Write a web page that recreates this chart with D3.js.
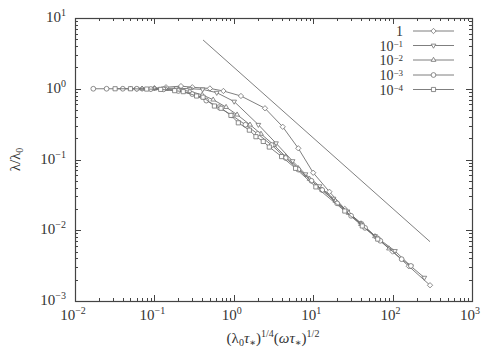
<!DOCTYPE html>
<html>
<head>
<meta charset="utf-8">
<script src="https://cdn.jsdelivr.net/npm/d3@7"></script>
<style>
body { margin: 0; background: #fff; }
text { font-family: "Liberation Serif", "DejaVu Serif", serif; fill: #333; }
</style>
</head>
<body>
<div id="chart"></div>
<script>
// series data
var x1 = [0.07, 0.1, 0.14, 0.216, 0.3, 0.5, 0.74, 1.23, 2.47, 4.13, 6.49, 10, 16, 25, 40, 65, 100, 160, 296];
var y1 = [1.0, 1.02, 1.05, 1.09, 1.05, 1.01, 0.93, 0.79, 0.53, 0.29, 0.144, 0.065, 0.035, 0.02, 0.0125, 0.0077, 0.005, 0.0031, 0.00167];

var x2 = [0.06, 0.09, 0.13, 0.19, 0.28, 0.405, 0.61, 1.01, 2.04, 3.4, 5.5, 8, 12, 18, 27, 40, 60, 107, 170, 251];
var y2 = [1.0, 1.0, 1.01, 1.02, 1.0, 0.98, 0.88, 0.66, 0.31, 0.17, 0.095, 0.062, 0.042, 0.028, 0.0185, 0.0125, 0.0083, 0.0051, 0.0031, 0.00214];

var x3 = [0.05, 0.07, 0.1, 0.14, 0.2, 0.28, 0.4, 0.55, 0.8, 1.1, 1.6, 2.2, 3.2, 4.5, 6.5, 9, 13, 19, 28, 40, 60, 90];
var y3 = [1.0, 1.0, 1.0, 0.99, 0.97, 0.92, 0.82, 0.7, 0.55, 0.43, 0.31, 0.23, 0.16, 0.11, 0.075, 0.053, 0.037, 0.026, 0.0175, 0.0122, 0.0082, 0.0055];

var x4 = [0.017, 0.025, 0.04, 0.06, 0.09, 0.13, 0.2, 0.3, 0.45, 0.65, 0.95, 1.4, 2.0, 3.0, 4.5, 6.5, 9.5, 13, 20, 30, 45, 70, 130, 170];
var y4 = [1.0, 1.0, 1.0, 1.0, 0.99, 0.98, 0.93, 0.84, 0.68, 0.55, 0.42, 0.31, 0.23, 0.16, 0.105, 0.072, 0.05, 0.037, 0.024, 0.016, 0.0108, 0.0071, 0.0039, 0.00313];

var x5 = [0.032, 0.05, 0.08, 0.12, 0.18, 0.231, 0.34, 0.41, 0.57, 0.69, 0.92, 1.14, 1.57, 1.9, 2.35, 2.8, 4, 6, 10.8, 25, 41.5, 65];
var y5 = [1.0, 1.0, 0.99, 0.98, 0.94, 0.91, 0.79, 0.76, 0.57, 0.53, 0.42, 0.33, 0.26, 0.21, 0.18, 0.15, 0.11, 0.075, 0.041, 0.0187, 0.0115, 0.0075];

// guide line lambda ~ 2/x
var refX = [0.41, 296];
var refY = [4.89, 0.00689];

var names = ["1", "10|-1", "10|-2", "10|-3", "10|-4"];
var xTicks = [-2, -1, 0, 1, 2, 3];
var yTicks = [-3, -2, -1, 0, 1];

var width = 500, height = 350;
var padL = 75, padR = 472, padT = 18, padB = 301;

var svg = d3.select("#chart").append("svg")
  .attr("width", width)
  .attr("height", height);

var x = d3.scaleLog().domain([1e-2, 1e3]).range([padL, padR]);
var y = d3.scaleLog().domain([1e-3, 1e1]).range([padB, padT]);

var lineColor = "#707070";
var axisColor = "#444";

// ticks on all four sides, pointing inward
function minorTicks(lo, hi) {
  var out = [];
  for (var e = lo; e < hi; e++) {
    for (var k = 1; k < 10; k++) out.push({v: k * Math.pow(10, e), major: k == 1});
  }
  out.push({v: Math.pow(10, hi), major: true});
  return out;
}
var xt = minorTicks(-2, 3), yt = minorTicks(-3, 1);
var tk = svg.append("g").attr("stroke", axisColor).attr("stroke-width", 1);
xt.forEach(function(t) {
  var px = Math.round(x(t.v)) + 0.5, len = t.major ? 6 : 3;
  tk.append("line").attr("x1", px).attr("x2", px).attr("y1", padB).attr("y2", padB - len);
  tk.append("line").attr("x1", px).attr("x2", px).attr("y1", padT).attr("y2", padT + len);
});
yt.forEach(function(t) {
  var py = Math.round(y(t.v)) + 0.5, len = t.major ? 6 : 3;
  tk.append("line").attr("x1", padL).attr("x2", padL + len).attr("y1", py).attr("y2", py);
  tk.append("line").attr("x1", padR).attr("x2", padR - len).attr("y1", py).attr("y2", py);
});

svg.append("rect")
  .attr("x", padL + 0.5).attr("y", padT + 0.5)
  .attr("width", padR - padL).attr("height", padB - padT)
  .attr("fill", "none").attr("stroke", axisColor).attr("stroke-width", 1.2);

// power-of-ten label with superscript
function powLabel(sel, base, exp, up, fs) {
  sel.append("tspan").text(base);
  if (exp !== null) sel.append("tspan").attr("dy", -(up || 6)).attr("font-size", fs || 10).text(exp);
}

xTicks.forEach(function(e) {
  var t = svg.append("text")
    .attr("x", x(Math.pow(10, e)) - 2).attr("y", 320)
    .attr("text-anchor", "middle").attr("font-size", 15);
  powLabel(t, "10", e < 0 ? "\u2212" + (-e) : "" + e);
});
yTicks.forEach(function(e) {
  var t = svg.append("text")
    .attr("x", 66).attr("y", y(Math.pow(10, e)) + 4)
    .attr("text-anchor", "end").attr("font-size", 15);
  powLabel(t, "10", e < 0 ? "\u2212" + (-e) : "" + e);
});

// axis titles
var xl = svg.append("text")
  .attr("x", 273).attr("y", 343)
  .attr("text-anchor", "middle").attr("font-size", 15);
xl.append("tspan").text("(\u03bb");
xl.append("tspan").attr("font-size", 10).attr("dy", 3).text("0");
xl.append("tspan").attr("dy", -3).attr("font-style", "italic").text("\u03c4");
xl.append("tspan").attr("font-size", 10).attr("dy", 3).text("\u2217");
xl.append("tspan").attr("dy", -3).text(")");
xl.append("tspan").attr("font-size", 10).attr("dy", -6).text("1/4");
xl.append("tspan").attr("dy", 6).text("(");
xl.append("tspan").attr("font-style", "italic").text("\u03c9\u03c4");
xl.append("tspan").attr("font-size", 10).attr("dy", 3).text("\u2217");
xl.append("tspan").attr("dy", -3).text(")");
xl.append("tspan").attr("font-size", 10).attr("dy", -6).text("1/2");

var yl = svg.append("text")
  .attr("transform", "translate(20," + ((padT + padB) / 2) + ") rotate(-90)")
  .attr("text-anchor", "middle").attr("font-size", 15);
yl.append("tspan").text("\u03bb/\u03bb");
yl.append("tspan").attr("font-size", 10).attr("dy", 3).text("0");

// markers
var sym = [
  d3.symbol().type(d3.symbolDiamond2).size(18),
  d3.symbol().type(d3.symbolTriangle2).size(16),
  d3.symbol().type(d3.symbolTriangle2).size(16),
  d3.symbol().type(d3.symbolCircle).size(18),
  d3.symbol().type(d3.symbolSquare2).size(22)
];
var rot = [0, 180, 0, 0, 0];

var allX = [x1, x2, x3, x4, x5], allY = [y1, y2, y3, y4, y5];
var line = d3.line().x(function(d) { return x(d[0]); }).y(function(d) { return y(d[1]); });

var plot = svg.append("g");
plot.append("path")
  .attr("d", line(d3.zip(refX, refY)))
  .attr("fill", "none").attr("stroke", lineColor).attr("stroke-width", 0.9);

for (var s = 0; s < 5; s++) {
  var pts = d3.zip(allX[s], allY[s]);
  plot.append("path")
    .attr("d", line(pts))
    .attr("fill", "none").attr("stroke", lineColor).attr("stroke-width", 0.9);
  plot.selectAll(".m" + s)
    .data(pts)
    .enter().append("path")
    .attr("class", "m" + s)
    .attr("d", sym[s])
    .attr("transform", function(d) { return "translate(" + x(d[0]) + "," + y(d[1]) + ") rotate(" + rot[s] + ")"; })
    .attr("fill", "white").attr("stroke", lineColor).attr("stroke-width", 0.8);
}

// legend
var rowY = [31, 45.5, 60, 75, 89.5];
names.forEach(function(n, i) {
  var t = svg.append("text")
    .attr("x", 403).attr("y", rowY[i] + 5)
    .attr("text-anchor", "end").attr("font-size", 14);
  var parts = n.split("|");
  powLabel(t, parts[0], parts.length > 1 ? parts[1].replace("-", "\u2212") : null, 4, 9);
  svg.append("line")
    .attr("x1", 413).attr("x2", 454).attr("y1", rowY[i]).attr("y2", rowY[i])
    .attr("stroke", lineColor).attr("stroke-width", 0.9);
  svg.append("path")
    .attr("d", sym[i])
    .attr("transform", "translate(433.5," + rowY[i] + ") rotate(" + rot[i] + ")")
    .attr("fill", "white").attr("stroke", lineColor).attr("stroke-width", 0.8);
});
</script>
</body>
</html>
